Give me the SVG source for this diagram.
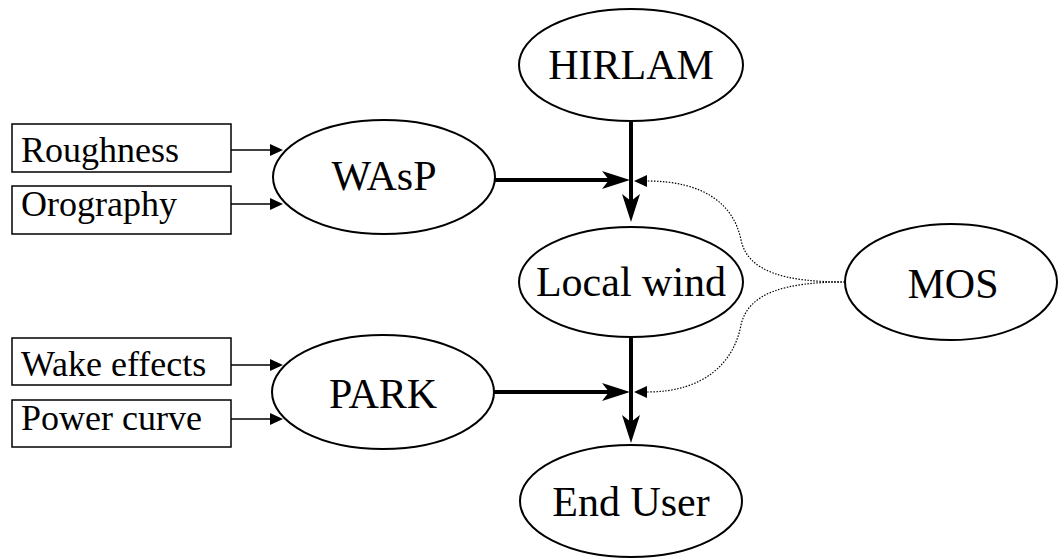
<svg xmlns="http://www.w3.org/2000/svg" width="1060" height="560" viewBox="0 0 1060 560">
<style>
.node ellipse{fill:#fff;stroke:#000;stroke-width:2}
.box rect{fill:#fff;stroke:#000;stroke-width:1.5}
text{font-family:'Liberation Serif', 'Times New Roman', serif;fill:#000}
.big{font-size:42px;text-anchor:middle}
.small{font-size:36px}
.thick{stroke:#000;stroke-width:4;fill:none}
.thin{stroke:#000;stroke-width:1.5;fill:none}
.dot{stroke:#000;stroke-width:1.2;stroke-dasharray:1.5 1.5;fill:none}
</style>
<defs>
<marker id="big" markerUnits="userSpaceOnUse" markerWidth="30" markerHeight="22" viewBox="0 -11 30 22" refX="7" refY="0" orient="auto">
<path d="M0,-9 L28,0 L0,9 L7,0 Z" fill="#000"/>
</marker>
<marker id="small" markerUnits="userSpaceOnUse" markerWidth="14" markerHeight="14" viewBox="0 -7 14 14" refX="0" refY="0" orient="auto">
<path d="M0,-6 L13,0 L0,6 Z" fill="#000"/>
</marker>
</defs>
<g id="connectors">
<line class="thin" x1="231" y1="150" x2="270" y2="150" marker-end="url(#small)"/>
<line class="thin" x1="231" y1="204" x2="270" y2="204" marker-end="url(#small)"/>
<line class="thin" x1="231" y1="365" x2="270" y2="365" marker-end="url(#small)"/>
<line class="thin" x1="231" y1="419" x2="270" y2="419" marker-end="url(#small)"/>
<line class="thick" x1="495" y1="180" x2="609" y2="180" marker-end="url(#big)"/>
<line class="thick" x1="631" y1="121" x2="631" y2="201" marker-end="url(#big)"/>
<line class="thick" x1="631" y1="337" x2="631" y2="422" marker-end="url(#big)"/>
<line class="thick" x1="493" y1="392" x2="609" y2="392" marker-end="url(#big)"/>
<path class="dot" d="M845,282 C785,282 748,272 741,240 C734,205 705,181 647,181" marker-end="url(#small)"/>
<path class="dot" d="M845,282 C785,282 748,293 741,325 C734,362 705,392 647,392" marker-end="url(#small)"/>
</g>
<g id="roughness" class="box"><rect x="12" y="124" width="219" height="48"/><text class="small" x="21" y="162">Roughness</text></g>
<g id="orography" class="box"><rect x="12" y="186" width="219" height="48"/><text class="small" x="21" y="216">Orography</text></g>
<g id="wake" class="box"><rect x="12" y="338" width="219" height="47"/><text class="small" x="21" y="376">Wake effects</text></g>
<g id="powercurve" class="box"><rect x="12" y="400" width="219" height="47"/><text class="small" x="21" y="430">Power curve</text></g>
<g id="hirlam" class="node"><ellipse cx="631" cy="65" rx="112" ry="56"/><text class="big" x="631" y="79">HIRLAM</text></g>
<g id="wasp" class="node"><ellipse cx="384" cy="177" rx="111" ry="57"/><text class="big" x="384" y="190">WAsP</text></g>
<g id="localwind" class="node"><ellipse cx="631" cy="282" rx="112" ry="55"/><text class="big" x="631" y="296">Local wind</text></g>
<g id="mos" class="node"><ellipse cx="951" cy="282" rx="106" ry="58"/><text class="big" x="953" y="298">MOS</text></g>
<g id="park" class="node"><ellipse cx="383" cy="392" rx="111" ry="57"/><text class="big" x="383" y="408">PARK</text></g>
<g id="enduser" class="node"><ellipse cx="631" cy="501" rx="111" ry="56"/><text class="big" x="631" y="516">End User</text></g>
</svg>
